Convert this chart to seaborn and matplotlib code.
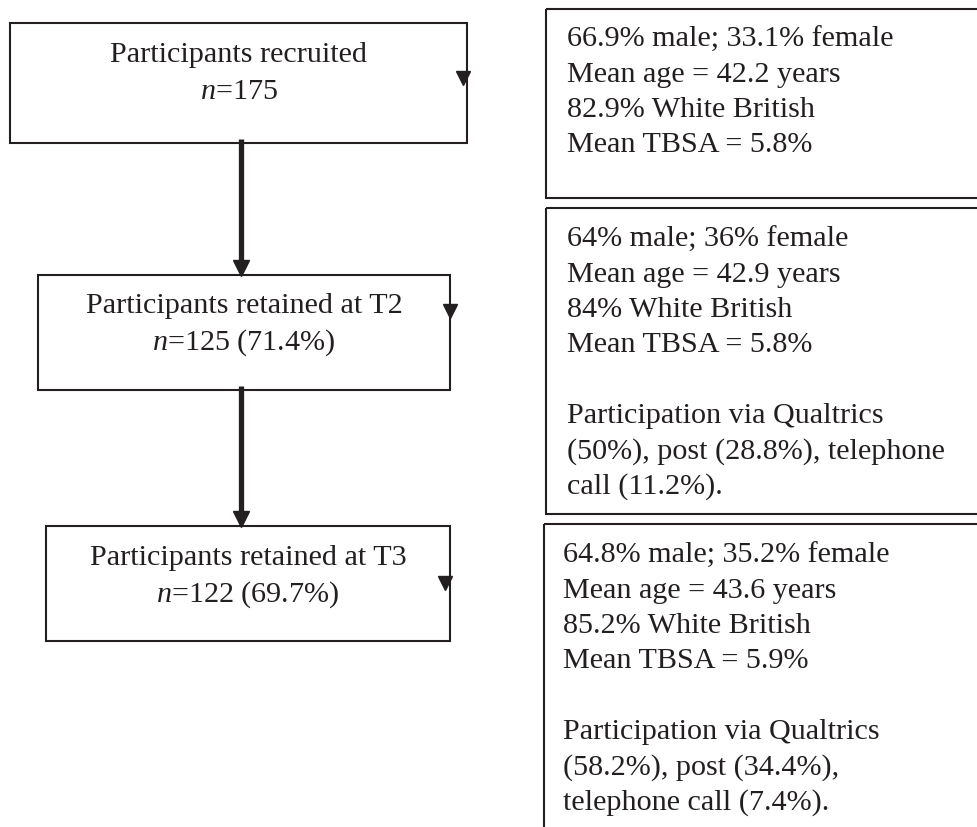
import matplotlib
matplotlib.use("Agg")
import matplotlib.pyplot as plt
import seaborn as sns
from matplotlib.patches import Rectangle

# ---- data ----
stage_titles = ["Participants recruited", "Participants retained at T2", "Participants retained at T3"]
stage_n = [175, 125, 122]
stage_pct = [None, "71.4%", "69.7%"]

sex_lines = ["66.9% male; 33.1% female", "64% male; 36% female", "64.8% male; 35.2% female"]
age_lines = ["Mean age = 42.2 years", "Mean age = 42.9 years", "Mean age = 43.6 years"]
eth_lines = ["82.9% White British", "84% White British", "85.2% White British"]
tbsa_lines = ["Mean TBSA = 5.8%", "Mean TBSA = 5.8%", "Mean TBSA = 5.9%"]
mode_lines = [
    [],
    ["Participation via Qualtrics", "(50%), post (28.8%), telephone", "call (11.2%)."],
    ["Participation via Qualtrics", "(58.2%), post (34.4%),", "telephone call (7.4%)."],
]

# ---- style ----
sns.set_theme(style="white")
plt.rcParams["font.family"] = ["Liberation Serif", "DejaVu Serif"]
plt.rcParams["mathtext.fontset"] = "custom"
plt.rcParams["mathtext.rm"] = "Liberation Serif"
plt.rcParams["mathtext.it"] = "Liberation Serif:italic"

INK = "#231f20"
FS = 21.7

fig = plt.figure(figsize=(9.77, 8.28), dpi=100)
ax = fig.add_axes([0, 0, 1, 1])
ax.set_xlim(0, 977)
ax.set_ylim(828, 0)
ax.axis("off")

# layout (pixels)
left_boxes = [(10, 24, 467, 144), (38, 276, 450, 391), (46, 527, 450, 642)]
left_base = [(62, 99), (313, 350), (565, 602)]
side_tri = [(463, 79), (450, 312), (445, 584)]
right_boxes = [(546, 10, 1000, 199), (546, 209, 1000, 515), (544, 525, 1000, 840)]
right_x = [567, 567, 563]
right_first = [47, 247, 563]
LS = 35.0

for i, (x0, y0, x1, y1) in enumerate(left_boxes):
    ax.add_patch(Rectangle((x0, y0), x1 - x0, y1 - y0, fill=False, ec=INK, lw=1.5))
    cx = (x0 + x1) / 2
    ax.text(cx, left_base[i][0], stage_titles[i], ha="center", va="baseline", fontsize=FS, color=INK)
    second = r"$\mathit{n}$=" + str(stage_n[i])
    if stage_pct[i]:
        second += " (" + stage_pct[i] + ")"
    ax.text(cx, left_base[i][1], second, ha="center", va="baseline", fontsize=FS, color=INK)
    tx, ty = side_tri[i]
    ax.plot([tx], [ty], marker="v", markersize=10, color=INK, linestyle="none")

# vertical arrows
xs = 241
for (a, b) in [(0, 1), (1, 2)]:
    y_start = left_boxes[a][3] - 4
    y_end = left_boxes[b][1]
    ax.plot([xs, xs], [y_start, y_end - 10], color=INK, lw=3.8, solid_capstyle="butt")
    ax.plot([xs], [y_end - 7.5], marker="v", markersize=11, color=INK, linestyle="none")

for i, (x0, y0, x1, y1) in enumerate(right_boxes):
    ax.add_patch(Rectangle((x0, y0), x1 - x0, y1 - y0, fill=False, ec=INK, lw=1.5, clip_on=True))
    lines = [sex_lines[i], age_lines[i], eth_lines[i], tbsa_lines[i]]
    if mode_lines[i]:
        lines += [""] + mode_lines[i]
    for k, s in enumerate(lines):
        if s:
            ax.text(right_x[i], right_first[i] + k * LS + (1.5 if k >= 5 else 0), s,
                    ha="left", va="baseline", fontsize=FS, color=INK)

fig.savefig("out.png", dpi=100)
